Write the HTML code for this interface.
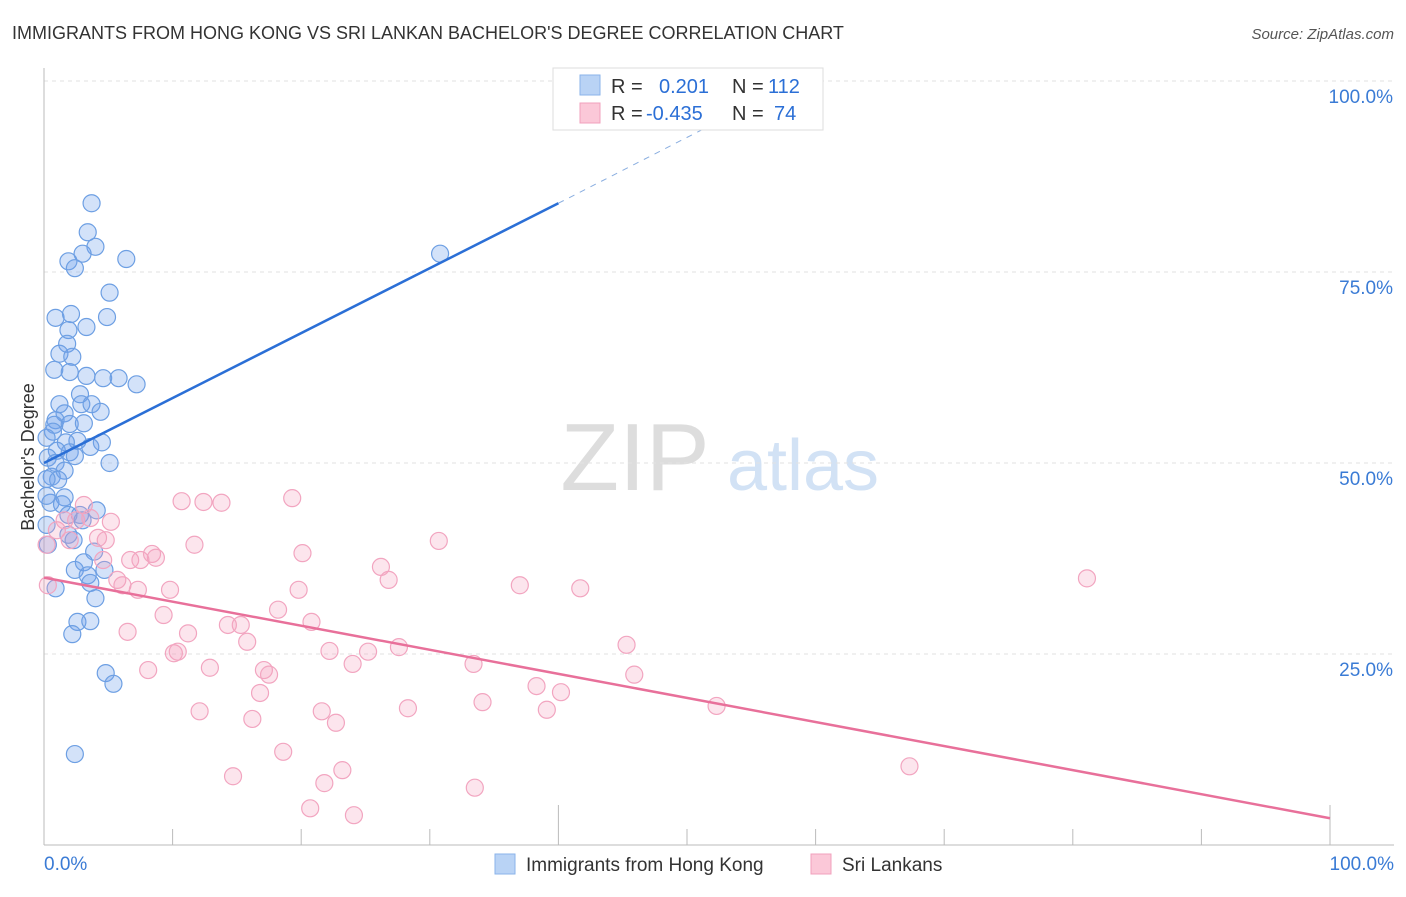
<!DOCTYPE html>
<html><head><meta charset="utf-8"><style>
body{margin:0;background:#fff;font-family:"Liberation Sans",sans-serif}
svg text{font-family:"Liberation Sans",sans-serif}
</style></head><body>
<svg width="1406" height="892" xmlns="http://www.w3.org/2000/svg">
<text x="12" y="39" font-size="18" fill="#333">IMMIGRANTS FROM HONG KONG VS SRI LANKAN BACHELOR'S DEGREE CORRELATION CHART</text>
<text x="1394" y="39" font-size="15" fill="#555" font-style="italic" text-anchor="end">Source: ZipAtlas.com</text>
<g>
<text x="635" y="490" font-size="96" font-family="Liberation Serif" fill="#ddd" text-anchor="middle">ZIP</text>
<text x="803" y="490" font-size="72" fill="#d2e2f5" text-anchor="middle">atlas</text>
</g>
<g id="grid"></g>
<g id="axes"></g>
<g id="marks"></g>
<text transform="translate(34,457) rotate(-90)" font-size="18" fill="#333" text-anchor="middle">Bachelor's Degree</text>
<g>
<rect x="553" y="68" width="270" height="62" fill="#fff" stroke="#ddd"/>
<rect x="580" y="75" width="20" height="20" fill="#b9d3f5" stroke="#8ab3ea"/>
<rect x="580" y="103" width="20" height="20" fill="#fbc8d8" stroke="#f0a0bc"/>
<text x="611" y="93" font-size="20" fill="#333">R =</text>
<text x="659" y="93" font-size="20" fill="#2b6fd6">0.201</text>
<text x="732" y="93" font-size="20" fill="#333">N =</text>
<text x="768" y="93" font-size="20" fill="#2b6fd6">112</text>
<text x="611" y="120" font-size="20" fill="#333">R =</text>
<text x="646" y="120" font-size="20" fill="#2b6fd6">-0.435</text>
<text x="732" y="120" font-size="20" fill="#333">N =</text>
<text x="774" y="120" font-size="20" fill="#2b6fd6">74</text>
</g>
<g>
<rect x="495" y="854" width="20" height="20" fill="#b9d3f5" stroke="#8ab3ea"/>
<text x="526" y="871" font-size="19" fill="#333">Immigrants from Hong Kong</text>
<rect x="811" y="854" width="20" height="20" fill="#fbc8d8" stroke="#f0a0bc"/>
<text x="842" y="871" font-size="19" fill="#333">Sri Lankans</text>
</g>
</svg>
<script>
const yTicks=[25,50,75,100];
const yTickLabels=["25.0%","50.0%","75.0%","100.0%"];
const xTicks=[0,10,20,30,40,50,60,70,80,90,100];
const blueX=[3.7,3.4,4.0,3.0,1.9,2.4,6.4,5.1,0.9,2.1,4.9,3.3,1.9,1.8,1.2,2.2,0.8,2.0,3.3,4.6,5.8,7.2,2.8,1.2,2.9,3.7,4.4,1.6,0.9,0.8,2.0,3.1,0.7,0.2,2.6,1.7,4.5,3.6,1.0,2.0,2.4,0.3,5.1,0.9,1.6,0.6,1.1,0.2,1.6,0.5,1.4,4.1,2.8,3.0,1.9,0.2,1.9,2.3,3.9,3.1,2.4,4.7,3.4,3.6,0.9,4.0,2.6,3.6,2.2,4.8,5.4,2.4,30.8,0.3,0.2];
const blueY=[84.0,80.2,78.3,77.4,76.4,75.5,76.7,72.3,69.0,69.5,69.1,67.8,67.4,65.6,64.3,63.9,62.2,61.9,61.4,61.1,61.1,60.3,59.0,57.7,57.7,57.7,56.7,56.5,55.6,55.0,55.1,55.2,54.1,53.3,52.9,52.7,52.7,52.1,51.6,51.4,50.9,50.7,50.0,50.0,49.0,48.2,47.8,47.9,45.5,44.8,44.6,43.8,43.2,42.5,43.2,41.9,40.6,39.9,38.4,37.0,36.0,36.0,35.3,34.3,33.6,32.3,29.2,29.3,27.6,22.5,21.1,11.9,77.4,39.3,45.7];
const pinkX=[0.2,0.3,1.0,1.6,2.0,3.1,2.5,3.6,5.2,4.2,4.8,4.6,5.7,6.1,6.7,7.5,8.4,8.7,7.3,9.8,6.5,8.1,9.3,10.1,10.4,11.2,10.7,12.4,13.8,11.7,14.3,15.3,12.9,15.8,17.1,17.5,16.8,12.1,16.2,18.6,14.7,18.2,19.3,19.8,20.1,20.8,21.6,22.7,22.2,20.7,21.8,23.2,24.1,24.0,25.2,26.2,26.8,27.6,28.3,30.7,33.4,34.1,33.5,37.0,38.3,39.1,40.2,41.7,45.3,45.9,52.3,67.3,81.1];
const pinkY=[39.3,34.0,41.2,42.5,39.9,44.5,42.5,42.8,42.3,40.2,39.9,37.3,34.7,34.0,37.3,37.3,38.1,37.6,33.4,33.4,27.9,22.9,30.1,25.1,25.3,27.7,45.0,44.9,44.8,39.3,28.8,28.8,23.2,26.6,22.9,22.3,19.9,17.5,16.5,12.2,9.0,30.8,45.4,33.4,38.2,29.2,17.5,16.0,25.4,4.8,8.1,9.8,3.9,23.7,25.3,36.4,34.7,25.9,17.9,39.8,23.7,18.7,7.5,34.0,20.8,17.7,20.0,33.6,26.2,22.3,18.2,10.3,34.9];
const blueTrend=[50,84,95.2]; // y at x=0,40,53
const blueTrendX=[0,40,53];
const pinkTrend=[35,3.5];
const pinkTrendX=[0,100];

const NS="http://www.w3.org/2000/svg";
const X=v=>44+v*12.86;
const Y=v=>845-v*7.64;
function mk(parent,tag,attrs){const e=document.createElementNS(NS,tag);for(const k in attrs)e.setAttribute(k,attrs[k]);document.getElementById(parent).appendChild(e);return e;}
yTicks.forEach((t,i)=>{
 const l=mk('grid','line',{x1:44,x2:1394,y1:Y(t),y2:Y(t),stroke:'#e2e2e2','stroke-dasharray':'4,4'});
 
 
 const tx=mk('grid','text',{x:1393,y:Y(t)+22,'font-size':19,fill:'#3a7bd5','text-anchor':'end'});
 tx.textContent=yTickLabels[i];
 
 
});
const ya=mk('axes','line',{x1:44,x2:44,y1:68,y2:845,stroke:'#bbb'});


const xa=mk('axes','line',{x1:44,x2:1394,y1:845,y2:845,stroke:'#bbb'});


xTicks.forEach(t=>{
 const big=(t==40||t==100);
 const l=mk('axes','line',{x1:X(t),x2:X(t),y1:big?805:829,y2:845,stroke:'#bbb'});
 
 
});
const x0=mk('axes','text',{x:44,y:870,'font-size':19,fill:'#3a7bd5'});x0.textContent='0.0%';


const x1=mk('axes','text',{x:1394,y:870,'font-size':19,fill:'#3a7bd5','text-anchor':'end'});x1.textContent='100.0%';


blueX.forEach((v,i)=>{
 const c=mk('marks','circle',{cx:X(v),cy:Y(blueY[i]),r:8.5,fill:'rgba(110,160,235,0.3)',stroke:'#6d9fe3','stroke-width':1.2});
 
 
});
pinkX.forEach((v,i)=>{
 const c=mk('marks','circle',{cx:X(v),cy:Y(pinkY[i]),r:8.5,fill:'rgba(245,160,190,0.28)',stroke:'#f2a5c0','stroke-width':1.2});
 
 
});
const bl=mk('marks','line',{x1:X(blueTrendX[0]),y1:Y(blueTrend[0]),x2:X(blueTrendX[1]),y2:Y(blueTrend[1]),stroke:'#2b6fd6','stroke-width':2.5});


const bd=mk('marks','line',{x1:X(blueTrendX[1]),y1:Y(blueTrend[1]),x2:X(blueTrendX[2]),y2:Y(blueTrend[2]),stroke:'#8aaee0','stroke-width':1,'stroke-dasharray':'6,6'});


const pl=mk('marks','line',{x1:X(pinkTrendX[0]),y1:Y(pinkTrend[0]),x2:X(pinkTrendX[1]),y2:Y(pinkTrend[1]),stroke:'#e8709a','stroke-width':2.5});


</script>
</body></html>
